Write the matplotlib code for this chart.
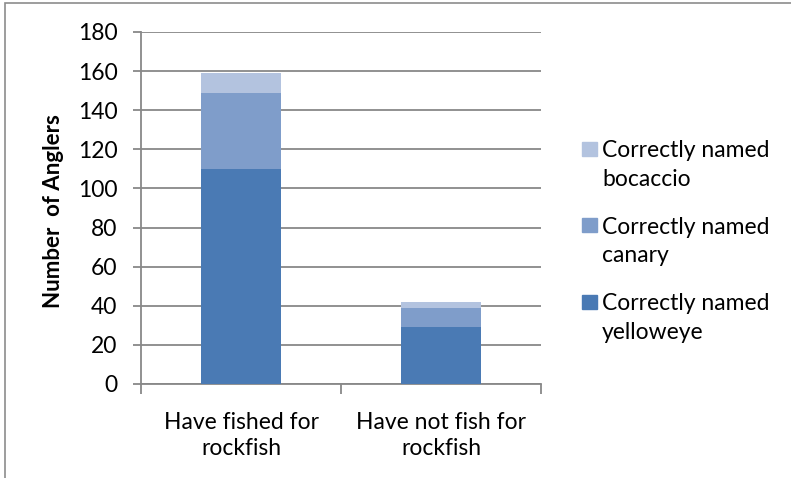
import matplotlib.pyplot as plt
import matplotlib.patches as mpatches
import numpy as np

plt.rcParams['font.family'] = ['Lato', 'DejaVu Sans']

# anglers who correctly named each species
groups = ['Have fished for\nrockfish', 'Have not fish for\nrockfish']
yelloweye = [110, 29]
canary = [39, 10]
bocaccio = [10, 3]

c_yellow = '#4a7ab4'
c_canary = '#7f9dca'
c_bocaccio = '#b3c3df'
grid_c = '#888888'
fs = 16.5

W, H = 791, 478
fig = plt.figure(figsize=(W / 100, H / 100), dpi=100)
# outer chart border
fig.patches.append(mpatches.Rectangle((5 / W, -0.1), 1.2, 1 - 3 / H + 0.1,
                                      transform=fig.transFigure, fill=False,
                                      edgecolor='#8c8c8c', linewidth=1.2))

ax = fig.add_axes([141 / W, 94 / H, 400 / W, 352 / H])
x = np.arange(len(groups))
w = 0.4
ax.bar(x, yelloweye, w, color=c_yellow, zorder=3)
ax.bar(x, canary, w, bottom=yelloweye, color=c_canary, zorder=3)
ax.bar(x, bocaccio, w, bottom=np.add(yelloweye, canary), color=c_bocaccio, zorder=3)

ax.set_xlim(-0.5, len(groups) - 0.5)
ax.set_ylim(0, 180)
ax.set_yticks(range(0, 181, 20))
ax.yaxis.grid(True, color=grid_c, linewidth=1.3)
ax.set_axisbelow(True)

ax.set_xticks(np.arange(-0.5, len(groups)))
ax.set_xticklabels([])
ax.set_xticks(x, minor=True)
ax.set_xticklabels(groups, minor=True, fontsize=fs, linespacing=1.3)
ax.tick_params(axis='x', which='minor', length=0, pad=20)
ax.tick_params(axis='x', which='major', length=7, color=grid_c, width=1.3)
ax.tick_params(axis='y', length=6, color=grid_c, width=1.3, labelsize=fs, pad=11)

for s in ['top', 'right']:
    ax.spines[s].set_visible(False)
for s in ['left', 'bottom']:
    ax.spines[s].set_color(grid_c)
    ax.spines[s].set_linewidth(1.3)

fig.text(54 / W, 1 - 211 / H, 'Number  of Anglers', rotation=90, fontsize=16,
         fontweight='bold', ha='center', va='center')

# legend: square beside the first line of each two-line label
entries = [(c_bocaccio, 'bocaccio'), (c_canary, 'canary'), (c_yellow, 'yelloweye')]
for i, (col, name) in enumerate(entries):
    base = 157 + i * 76.5
    fig.patches.append(mpatches.Rectangle((582 / W, 1 - (base - 1) / H), 15 / W, 14 / H,
                                          transform=fig.transFigure, color=col))
    fig.text(602 / W, 1 - base / H, 'Correctly named', fontsize=fs, va='baseline')
    fig.text(602 / W, 1 - (base + 29) / H, name, fontsize=fs, va='baseline')

fig.savefig('out.png', dpi=100)
